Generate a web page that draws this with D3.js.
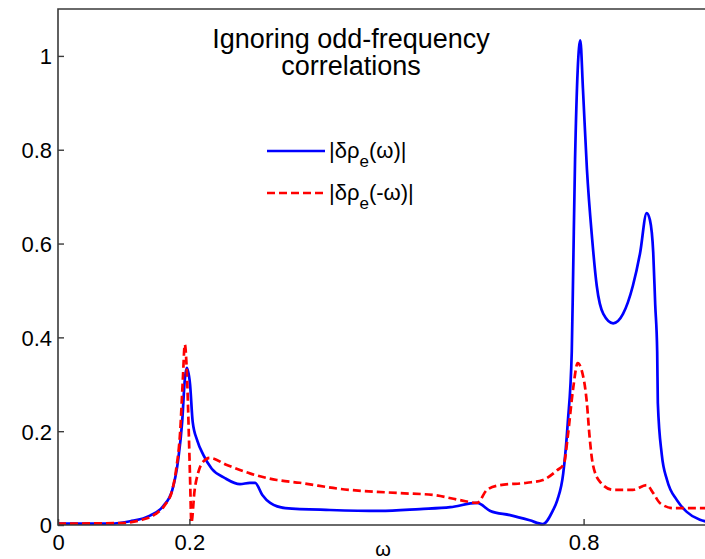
<!DOCTYPE html>
<html lang="en">
<head>
    <meta charset="UTF-8">
    <title>Ignoring odd-frequency correlations</title>
    <script src="https://d3js.org/d3.v7.min.js"></script>
    <style>
        body { margin: 0; background: #fff; }
        svg { display: block; font-family: "Liberation Sans", Arial, sans-serif; }
    </style>
</head>
<body>
<script>
    // |δρe(ω)|  (solid blue)
    const posOmega = [0, 0.079, 0.110, 0.140, 0.160, 0.174, 0.183, 0.189, 0.193, 0.196,
        0.201, 0.205, 0.212, 0.221, 0.234, 0.254, 0.277, 0.292, 0.300, 0.311,
        0.323, 0.346, 0.414, 0.490, 0.551, 0.597, 0.638, 0.658, 0.688, 0.718,
        0.738, 0.753, 0.760, 0.769, 0.776, 0.782, 0.784, 0.787, 0.795, 0.799,
        0.805, 0.813, 0.820, 0.830, 0.845, 0.860, 0.875, 0.886, 0.896, 0.901,
        0.906, 0.909, 0.912, 0.913, 0.919, 0.927, 0.942, 0.957, 0.977, 1.0]
    const posValues = [0.003, 0.003, 0.008, 0.02, 0.04, 0.075, 0.14, 0.22, 0.31, 0.335,
        0.30, 0.22, 0.18, 0.15, 0.12, 0.10, 0.087, 0.09, 0.09, 0.064,
        0.047, 0.036, 0.032, 0.03, 0.034, 0.038, 0.047, 0.03, 0.021, 0.01,
        0.002, 0.03, 0.053, 0.11, 0.22, 0.37, 0.53, 0.78, 1.033, 0.93,
        0.76, 0.61, 0.51, 0.45, 0.43, 0.45, 0.51, 0.58, 0.665, 0.65,
        0.58, 0.47, 0.37, 0.26, 0.15, 0.096, 0.053, 0.028, 0.011, 0.005]

    // |δρe(-ω)|  (dashed red)
    const negOmega = [0, 0.094, 0.125, 0.148, 0.163, 0.174, 0.180, 0.186, 0.190, 0.193,
        0.196, 0.199, 0.201, 0.203, 0.208, 0.213, 0.221, 0.231, 0.257, 0.292,
        0.333, 0.368, 0.429, 0.520, 0.571, 0.612, 0.638, 0.653, 0.673, 0.714,
        0.738, 0.760, 0.770, 0.776, 0.784, 0.791, 0.797, 0.805, 0.809, 0.814,
        0.825, 0.845, 0.875, 0.896, 0.906, 0.916, 0.936, 1.0]
    const negValues = [0.003, 0.004, 0.01, 0.023, 0.043, 0.075, 0.12, 0.2, 0.31, 0.385,
        0.33, 0.2, 0.1, 0.005, 0.075, 0.11, 0.135, 0.143, 0.128, 0.11,
        0.096, 0.09, 0.077, 0.068, 0.064, 0.053, 0.047, 0.075, 0.085, 0.09,
        0.096, 0.117, 0.13, 0.19, 0.29, 0.345, 0.33, 0.26, 0.19, 0.13,
        0.092, 0.075, 0.075, 0.085, 0.068, 0.047, 0.036, 0.036]

    const xTicks = [0, 0.2, 0.8]
    const xTickLabels = ["0", "0.2", "0.8"]
    const yTicks = [0, 0.2, 0.4, 0.6, 0.8, 1]
    const yTickLabels = ["0", "0.2", "0.4", "0.6", "0.8", "1"]
    const titleLines = ["Ignoring odd-frequency", "correlations"]

    const width = 705
    const height = 559
    const mLeft = 58, mTop = 9, mRight = 715, mBottom = 525

    let svg = d3.select("body").append("svg")
        .attr("width", width)
        .attr("height", height)
        .attr("viewBox", `0 0 ${width} ${height}`)

    const x = d3.scaleLinear().domain([0, 1]).range([mLeft, mRight])
    const y = d3.scaleLinear().domain([0, 1.1]).range([mBottom, mTop])

    const axisColor = "#3a3a3a"

    // curves, smoothed
    const line = d3.line()
        .x(d => x(d[0]))
        .y(d => y(d[1]))
        .curve(d3.curveMonotoneX)
    const posData = posOmega.map((w, i) => [w, posValues[i]])
    const negData = negOmega.map((w, i) => [w, negValues[i]])

    svg.append("path")
        .attr("d", line(posData))
        .attr("fill", "none")
        .attr("stroke", "#0000ff")
        .attr("stroke-width", 2.7)
        .attr("stroke-linejoin", "round")

    svg.append("path")
        .attr("d", line(negData))
        .attr("fill", "none")
        .attr("stroke", "#ff0000")
        .attr("stroke-width", 2.7)
        .attr("stroke-dasharray", "8,4")

    // box (left, bottom, top)
    svg.append("path")
        .attr("d", `M${mRight},${mTop}H${mLeft}V${mBottom}H${mRight}`)
        .attr("fill", "none")
        .attr("stroke", axisColor)
        .attr("stroke-width", 1.6)

    // y axis, inward ticks
    const yAxis = d3.axisRight(y)
        .tickValues(yTicks)
        .tickFormat((d, i) => yTickLabels[i])
        .tickSize(6)
    let gy = svg.append("g").attr("transform", `translate(${mLeft},0)`).call(yAxis)
    gy.select(".domain").remove()
    gy.selectAll(".tick line").attr("stroke", axisColor).attr("stroke-width", 1.4)
    gy.selectAll(".tick text")
        .attr("x", -6)
        .attr("text-anchor", "end")
        .attr("dy", "0.36em")
        .attr("fill", "#000")
        .attr("font-size", 22)
        .attr("font-family", "Liberation Sans, Arial, sans-serif")

    // x axis, inward ticks
    const xAxis = d3.axisTop(x)
        .tickValues(xTicks)
        .tickFormat((d, i) => xTickLabels[i])
        .tickSize(6)
    let gx = svg.append("g").attr("transform", `translate(0,${mBottom})`).call(xAxis)
    gx.select(".domain").remove()
    gx.selectAll(".tick line").attr("stroke", axisColor).attr("stroke-width", 1.4)
    gx.selectAll(".tick text")
        .attr("y", 25)
        .attr("dy", 0)
        .attr("text-anchor", "middle")
        .attr("fill", "#000")
        .attr("font-size", 22)
        .attr("font-family", "Liberation Sans, Arial, sans-serif")

    // axis label
    svg.append("text")
        .attr("x", 383)
        .attr("y", 556)
        .attr("text-anchor", "middle")
        .attr("font-size", 20)
        .text("ω")

    // title inside the axes
    svg.selectAll(".title")
        .data(titleLines)
        .enter()
        .append("text")
        .attr("class", "title")
        .attr("x", 351)
        .attr("y", (d, i) => 48 + i * 27)
        .attr("text-anchor", "middle")
        .attr("font-size", 27)
        .attr("fill", "#000")
        .text(d => d)

    // legend
    const legendItems = [
        {color: "#0000ff", dash: null, arg: "ω"},
        {color: "#ff0000", dash: "8,4", arg: "-ω"}
    ]
    let gLegend = svg.append("g")
    legendItems.forEach((item, i) => {
        const ly = 151 + i * 42
        gLegend.append("line")
            .attr("x1", 267).attr("x2", 325)
            .attr("y1", ly).attr("y2", ly)
            .attr("stroke", item.color)
            .attr("stroke-width", 2.7)
            .attr("stroke-dasharray", item.dash)
        let t = gLegend.append("text")
            .attr("x", 329)
            .attr("y", ly + 7)
            .attr("font-size", 22)
            .attr("fill", "#000")
        t.append("tspan").text("|δρ")
        t.append("tspan").attr("dy", 9).attr("font-size", 17).text("e")
        t.append("tspan").attr("dy", -9).text(`(${item.arg})|`)
    })
</script>
</body>
</html>
